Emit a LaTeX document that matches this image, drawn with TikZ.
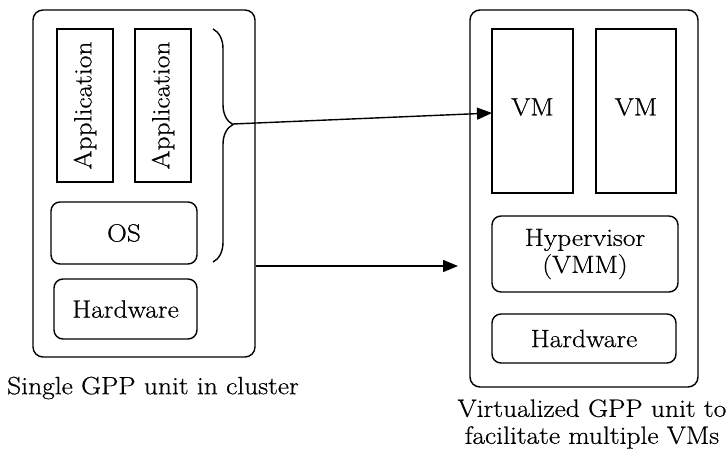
\documentclass[tikz,border=0pt]{standalone}
\usepackage{fontspec}
\setmainfont{Latin Modern Roman}[FakeStretch=1.1,FakeBold=0.6]
\usetikzlibrary{arrows.meta,decorations.pathreplacing}
\begin{document}
\begin{tikzpicture}[x=1pt,y=-1pt,
  line width=1.4pt,
  every node/.style={font=\fontsize{25}{27}\selectfont},
  unit/.style={draw,rounded corners=10pt,inner sep=0pt},
  plainbox/.style={draw,inner sep=0pt},
  roundbox/.style={draw,rounded corners=9pt,inner sep=0pt,align=center},
  caption/.style={align=center,inner sep=0pt},
  arr/.style={-{Triangle[length=15pt,width=12pt]}}]
\useasboundingbox (0,0) rectangle (726,450);

% single GPP unit
\node[unit,minimum width=222pt,minimum height=347pt] (lbox) at (144,183.5) {};
\node[plainbox,minimum width=56pt,minimum height=153pt] (app1) at (85,105.5) {};
\node[rotate=90] at (app1.center) {Application};
\node[plainbox,minimum width=56pt,minimum height=153pt] (app2) at (163,105.5) {};
\node[rotate=90] at (app2.center) {Application};
\node[roundbox,minimum width=146pt,minimum height=62pt] (os) at (124,233) {OS};
\node[roundbox,minimum width=143pt,minimum height=60pt] (hwl) at (125.5,309) {Hardware};
\node[caption] (capl) at (153,388) {Single GPP unit in cluster};

% brace over the software stack
\draw[decorate,decoration={brace,amplitude=20pt,aspect=0.41}] (213,29) -- (213,262);
\coordinate (bt) at (233,124);

% virtualized GPP unit
\node[unit,minimum width=228pt,minimum height=377pt] (rbox) at (584,198.5) {};
\node[plainbox,minimum width=81pt,minimum height=164pt] (vm1) at (532.5,111) {};
\node at (532.5,107) {VM};
\node[plainbox,minimum width=80pt,minimum height=164pt] (vm2) at (636,111) {};
\node at (636,107) {VM};
\node[roundbox,minimum width=186pt,minimum height=76pt] (hyp) at (585,254) {Hypervisor\\(VMM)};
\node[roundbox,minimum width=184pt,minimum height=49pt] (hwr) at (584,338.5) {Hardware};
\node[caption] (capr) at (592,424) {Virtualized GPP unit to\\facilitate multiple VMs};

% connectors
\coordinate (a1e) at (492,113);
\draw[arr] (bt) -- (a1e);
\coordinate (a2e) at (458,266);
\draw[arr] (lbox.east |- a2e) -- (a2e);
\end{tikzpicture}
\end{document}
